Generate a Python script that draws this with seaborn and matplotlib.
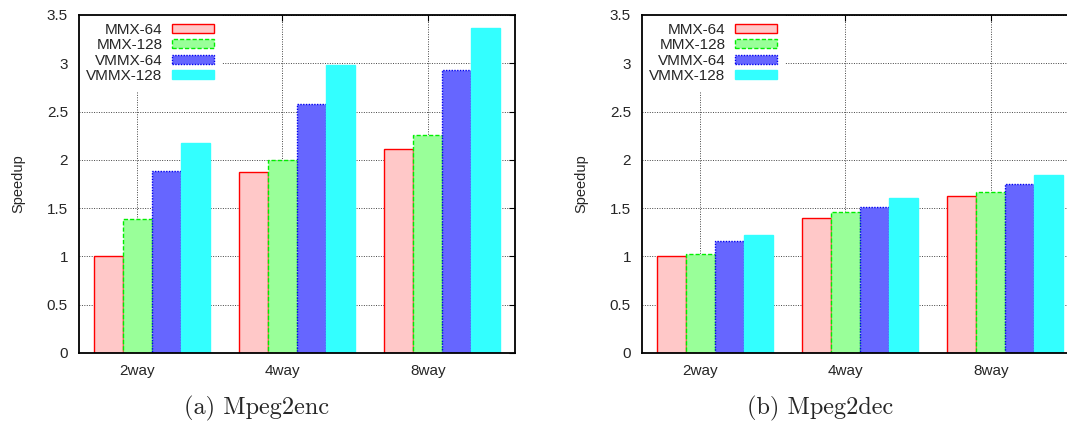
import matplotlib
matplotlib.use("Agg")
import matplotlib.pyplot as plt
import seaborn as sns
import pandas as pd
from matplotlib.ticker import FormatStrFormatter

# ---------------- data ----------------
categories = ["2way", "4way", "8way"]
configs = ["MMX-64", "MMX-128", "VMMX-64", "VMMX-128"]

enc_mmx64 = [1.00, 1.87, 2.11]
enc_mmx128 = [1.39, 2.00, 2.26]
enc_vmmx64 = [1.88, 2.58, 2.93]
enc_vmmx128 = [2.17, 2.98, 3.37]

dec_mmx64 = [1.00, 1.40, 1.63]
dec_mmx128 = [1.02, 1.46, 1.67]
dec_vmmx64 = [1.16, 1.51, 1.75]
dec_vmmx128 = [1.22, 1.60, 1.84]

yticks = [0, 0.5, 1, 1.5, 2, 2.5, 3, 3.5]
captions = ["(a) Mpeg2enc", "(b) Mpeg2dec"]

# ---------------- style ----------------
sns.set_style("white")
plt.rcParams["font.family"] = ["Liberation Sans", "DejaVu Sans"]

face = ["#FFC8C8", "#99FF99", "#6666FF", "#33FFFF"]
edge = ["#FF0000", "#00EE00", "#0000EE", "#33FFFF"]
lstyle = ["-", (0, (3, 1.5)), (0, (1, 1)), "-"]


def make_df(series):
    rows = []
    for cfg, vals in zip(configs, series):
        for cat, v in zip(categories, vals):
            rows.append({"config": cfg, "cat": cat, "speedup": v})
    return pd.DataFrame(rows)


df_enc = make_df([enc_mmx64, enc_mmx128, enc_vmmx64, enc_vmmx128])
df_dec = make_df([dec_mmx64, dec_mmx128, dec_vmmx64, dec_vmmx128])

W, H = 1067, 421
fig = plt.figure(figsize=(W / 100, H / 100), dpi=100)

axes_px = [(79, 515), (642, 1078)]
top_px, bot_px = 15, 353
cap_x = [257, 820]

for (x0, x1), df, cap, cx in zip(axes_px, [df_enc, df_dec], captions, cap_x):
    ax = fig.add_axes([x0 / W, 1 - bot_px / H, (x1 - x0) / W, (bot_px - top_px) / H])
    sns.barplot(data=df, x="cat", y="speedup", hue="config", order=categories,
                hue_order=configs, palette=face, width=0.8, saturation=1,
                legend=False, ax=ax, zorder=2)
    for i, cont in enumerate(ax.containers):
        for p in cont.patches:
            p.set_edgecolor(edge[i])
            p.set_linestyle(lstyle[i])
            p.set_linewidth(1.0)
    ax.set_ylim(0, 3.5)
    ax.set_xlim(-0.5, 2.5)
    ax.set_yticks(yticks)
    ax.yaxis.set_major_formatter(FormatStrFormatter("%g"))
    ax.set_xticks([i - 0.1 for i in range(len(categories))])
    ax.set_xticklabels(categories)
    ax.tick_params(direction="in", top=True, right=True, length=4, width=0.8,
                   labelsize=11, color="black", pad=8)
    ax.set_xlabel("")
    ax.set_ylabel("Speedup", fontsize=10.5)
    ax.yaxis.set_label_coords(-54 / (x1 - x0), 0.5)
    ax.grid(True, linestyle=(0, (1, 1.5)), color="#444444", linewidth=0.7, zorder=0)
    ax.set_axisbelow(True)
    for s in ax.spines.values():
        s.set_color("black")
        s.set_linewidth(1.3)
        s.set_zorder(5)

    leg = ax.legend(ax.containers, configs, loc="upper right",
                    bbox_to_anchor=(143 / (x1 - x0), 1.0),
                    markerfirst=False, frameon=True, fancybox=False,
                    facecolor="white", edgecolor="none", framealpha=1,
                    fontsize=11, handlelength=2.8, handleheight=0.55,
                    labelspacing=0.1, handletextpad=0.6, borderpad=0.5,
                    borderaxespad=0.0)
    leg.set_zorder(4)

    fig.text(cx / W, 1 - 414 / H, cap, fontsize=17.5, family="cmr10",
             ha="center", va="baseline")

fig.savefig("out.png", dpi=100)
